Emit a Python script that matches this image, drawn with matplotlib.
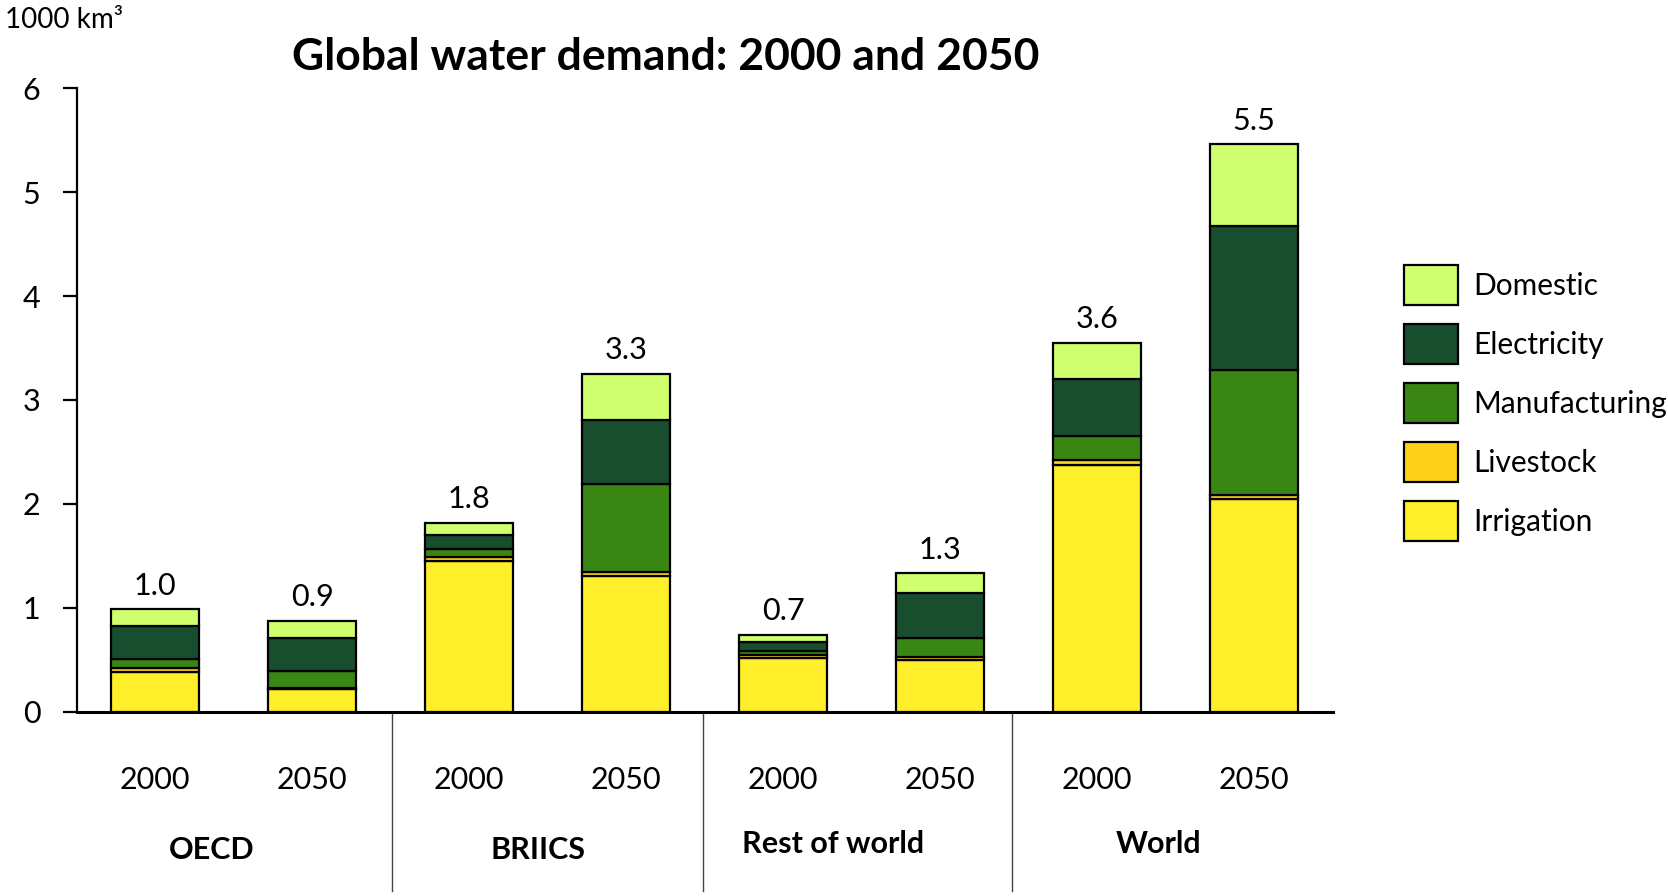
import matplotlib
matplotlib.use("Agg")
import matplotlib.pyplot as plt
from matplotlib.lines import Line2D
import numpy as np

plt.rcParams['font.family'] = ['Lato', 'DejaVu Sans']

# ---- data (1000 km3) ----
groups = ["OECD", "BRIICS", "Rest of world", "World"]
years = ["2000", "2050"]
bar_labels = ["2000", "2050", "2000", "2050", "2000", "2050", "2000", "2050"]
irrigation    = [0.385, 0.22, 1.45, 1.31, 0.52, 0.50, 2.375, 2.05]
livestock     = [0.033, 0.01, 0.035, 0.03, 0.025, 0.025, 0.05, 0.04]
manufacturing = [0.086, 0.165, 0.08, 0.85, 0.035, 0.18, 0.225, 1.20]
electricity   = [0.32, 0.315, 0.14, 0.62, 0.09, 0.44, 0.55, 1.38]
domestic      = [0.16, 0.165, 0.115, 0.44, 0.07, 0.185, 0.35, 0.79]
totals_text   = ["1.0", "0.9", "1.8", "3.3", "0.7", "1.3", "3.6", "5.5"]

series = [
    ("Irrigation", irrigation, "#FFEE2A"),
    ("Livestock", livestock, "#FFD21A"),
    ("Manufacturing", manufacturing, "#3A8614"),
    ("Electricity", electricity, "#184D2E"),
    ("Domestic", domestic, "#CFFE6F"),
]

fig = plt.figure(figsize=(16.68, 8.96), dpi=100)
ax = fig.add_axes([0.0459, 0.2057, 0.7531, 0.6958])

x = np.arange(len(bar_labels))
bottom = np.zeros(len(x))
handles = {}
for name, vals, col in series:
    v = np.array(vals)
    h = ax.bar(x, v, width=0.56, bottom=bottom, color=col, edgecolor="black",
               linewidth=1.6, label=name, zorder=3)
    handles[name] = h
    bottom += v

for xi, top, t in zip(x, bottom, totals_text):
    ax.annotate(t, (xi, top), xytext=(0, 7), textcoords="offset points",
                ha="center", va="bottom", fontsize=22)

ax.set_xlim(-0.5, 7.5)
ax.set_ylim(0, 6)
ax.set_yticks(range(0, 7))
ax.tick_params(axis="y", length=10, width=1.6, pad=16, labelsize=22)
ax.set_xticks([])
for s in ["top", "right"]:
    ax.spines[s].set_visible(False)
ax.spines["left"].set_linewidth(1.6)
ax.spines["bottom"].set_linewidth(2.2)

trans = ax.get_xaxis_transform()
for xi, lab in zip(x, bar_labels):
    ax.text(xi, -0.11, lab, transform=trans, ha="center", va="center", fontsize=22)

group_x = [0.363, 2.44, 4.32, 6.39]
group_y = [-0.222, -0.222, -0.212, -0.212]
for gx, gy, g in zip(group_x, group_y, groups):
    ax.text(gx, gy, g, transform=trans, ha="center", va="center",
            fontsize=22, fontweight="bold")

for sx in [1.508, 3.49, 5.46]:
    ax.add_line(Line2D([sx, sx], [0, -0.288], transform=trans, color="#444444",
                       linewidth=1.0, clip_on=False))

fig.text(0.399, 0.936, "Global water demand: 2000 and 2050", ha="center",
         va="center", fontsize=32, fontweight="bold")
fig.text(0.003, 0.978, "1000 km³", ha="left", va="center", fontsize=20)

order = ["Domestic", "Electricity", "Manufacturing", "Livestock", "Irrigation"]
fig.legend([handles[n] for n in order], order, loc="upper left",
           bbox_to_anchor=(0.8416, 0.704), frameon=False, fontsize=21.5,
           handlelength=1.82, handleheight=1.65, labelspacing=0.66,
           handletextpad=0.5, borderpad=0, borderaxespad=0)

fig.savefig("out.png", dpi=100)
